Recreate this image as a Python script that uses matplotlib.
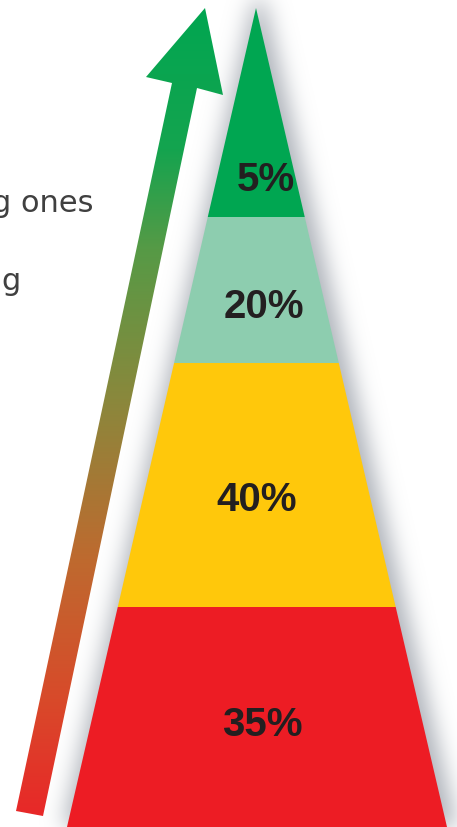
import numpy as np
import matplotlib
matplotlib.use("Agg")
import matplotlib.pyplot as plt
from matplotlib.patches import Polygon
from matplotlib.colors import to_rgb

# ---- data ----
levels = ["5%", "20%", "40%", "35%"]            # top to bottom
level_colors = ["#00a651", "#8dcdaf", "#ffc80b", "#ed1c24"]
side_text = ["g ones", "g"]

# ---- layout (pixel coordinates) ----
W, H = 457, 828
apex = (256, 9)
base_left, base_right = (67, 828), (447, 828)
bounds_y = [9, 218, 364, 608, 828]
label_pos = [(266, 180), (264, 307), (257, 500), (262, 725)]

fig = plt.figure(figsize=(W / 100, H / 100), dpi=100)
ax = fig.add_axes([0, 0, 1, 1])
ax.set_xlim(0, W)
ax.set_ylim(H, 0)
ax.axis("off")

def left_x(y):
    t = (y - apex[1]) / (base_left[1] - apex[1])
    return apex[0] + t * (base_left[0] - apex[0])

def right_x(y):
    t = (y - apex[1]) / (base_right[1] - apex[1])
    return apex[0] + t * (base_right[0] - apex[0])

# ---- shadow: blurred pyramid mask ----
yy, xx = np.mgrid[0:H, 0:W] + 0.5
grow = 4
lx = left_x(yy) - grow
rx = right_x(yy) + grow + 6
mask = ((xx >= lx) & (xx <= rx) & (yy >= apex[1] - 10)).astype(float)
sigma = 11
k = np.arange(-3 * sigma, 3 * sigma + 1)
g = np.exp(-k ** 2 / (2 * sigma ** 2)); g /= g.sum()
blur = np.apply_along_axis(lambda r: np.convolve(r, g, mode="same"), 1, mask)
blur = np.apply_along_axis(lambda c: np.convolve(c, g, mode="same"), 0, blur)
shadow = np.zeros((H, W, 4))
shadow[..., 0] = 0.58
shadow[..., 1] = 0.60
shadow[..., 2] = 0.64
shadow[..., 3] = np.clip(blur * 0.75, 0, 1)
ax.imshow(shadow, extent=(0, W, H, 0), interpolation="bilinear", zorder=1)

# ---- pyramid segments ----
for i, (lab, col) in enumerate(zip(levels, level_colors)):
    y0, y1 = bounds_y[i], bounds_y[i + 1]
    if i == 0:
        pts = [apex, (right_x(y1), y1), (left_x(y1), y1)]
    else:
        pts = [(left_x(y0), y0), (right_x(y0), y0), (right_x(y1), y1), (left_x(y1), y1)]
    ax.add_patch(Polygon(pts, closed=True, facecolor=col, edgecolor="none", zorder=2))
    lxp, lyp = label_pos[i]
    ax.text(lxp, lyp, lab, ha="center", va="center", fontsize=29, fontweight="bold",
            family=["Liberation Sans", "DejaVu Sans"], color="#231f20", zorder=3)

# ---- gradient arrow ----
arrow_pts = [(205, 9), (223, 96), (197, 89), (43, 817), (16, 812), (172, 84), (146, 78)]
arrow = Polygon(arrow_pts, closed=True, facecolor="none", edgecolor="none", zorder=2)
ax.add_patch(arrow)
stops_y = [0, 150, 250, 400, 560, 700, 828]
stops_c = ["#00a651", "#14a44f", "#569a46", "#8a883c", "#be6a2f", "#d84a2a", "#ea2428"]
ys = np.arange(H) + 0.5
cols = np.array([to_rgb(c) for c in stops_c])
grad = np.stack([np.interp(ys, stops_y, cols[:, j]) for j in range(3)], axis=-1)
grad_img = np.repeat(grad[:, None, :], 2, axis=1)
im = ax.imshow(grad_img, extent=(0, W, H, 0), interpolation="bilinear", zorder=2, aspect="auto")
im.set_clip_path(arrow)

# ---- cut-off side text ----
ax.text(94, 212, side_text[0], ha="right", va="baseline", fontsize=22,
        family=["DejaVu Sans"], color="#404040", zorder=3)
ax.text(21, 290, side_text[1], ha="right", va="baseline", fontsize=22,
        family=["DejaVu Sans"], color="#404040", zorder=3)

ax.set_xlim(0, W)
ax.set_ylim(H, 0)
fig.savefig("out.png", dpi=100)
